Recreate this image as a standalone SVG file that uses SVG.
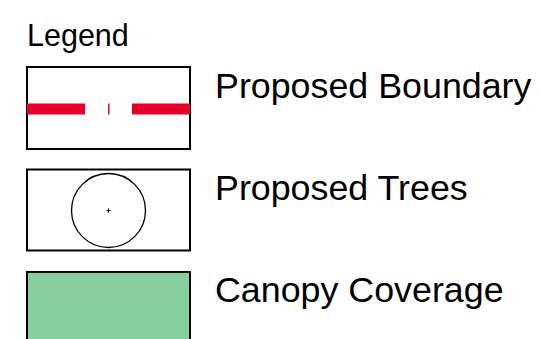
<svg xmlns="http://www.w3.org/2000/svg" width="541" height="339" viewBox="0 0 541 339">
<style>
.box{fill:#fff;stroke:#000;stroke-width:2}
.lbl{font-family:"Liberation Sans",Arial,sans-serif;font-size:35.8px;fill:#000}
.red{fill:#e4002b}
</style>
<rect width="541" height="339" fill="#fff"/>
<text x="27" y="46" style="font-family:'Liberation Sans',Arial,sans-serif;font-size:30.5px;fill:#000">Legend</text>
<g id="boundary">
<rect class="box" x="27" y="67" width="163" height="82"/>
<rect class="red" x="27" y="103.5" width="58" height="11"/>
<rect class="red" x="108" y="103.5" width="1.5" height="11"/>
<rect class="red" x="132" y="103.5" width="58" height="11"/>
<text class="lbl" x="215" y="98">Proposed Boundary</text>
</g>
<g id="trees">
<rect class="box" x="27" y="169.5" width="163" height="81"/>
<circle cx="108.5" cy="210.5" r="37" fill="none" stroke="#000" stroke-width="1.3"/>
<path d="M106.5 210.5h4M108.5 208.5v4" stroke="#000" stroke-width="1"/>
<text class="lbl" x="215" y="200">Proposed Trees</text>
</g>
<g id="canopy">
<rect x="27" y="272" width="163" height="80" fill="#88cfa0" stroke="#000" stroke-width="2"/>
<text class="lbl" x="215" y="302">Canopy Coverage</text>
</g>
</svg>
